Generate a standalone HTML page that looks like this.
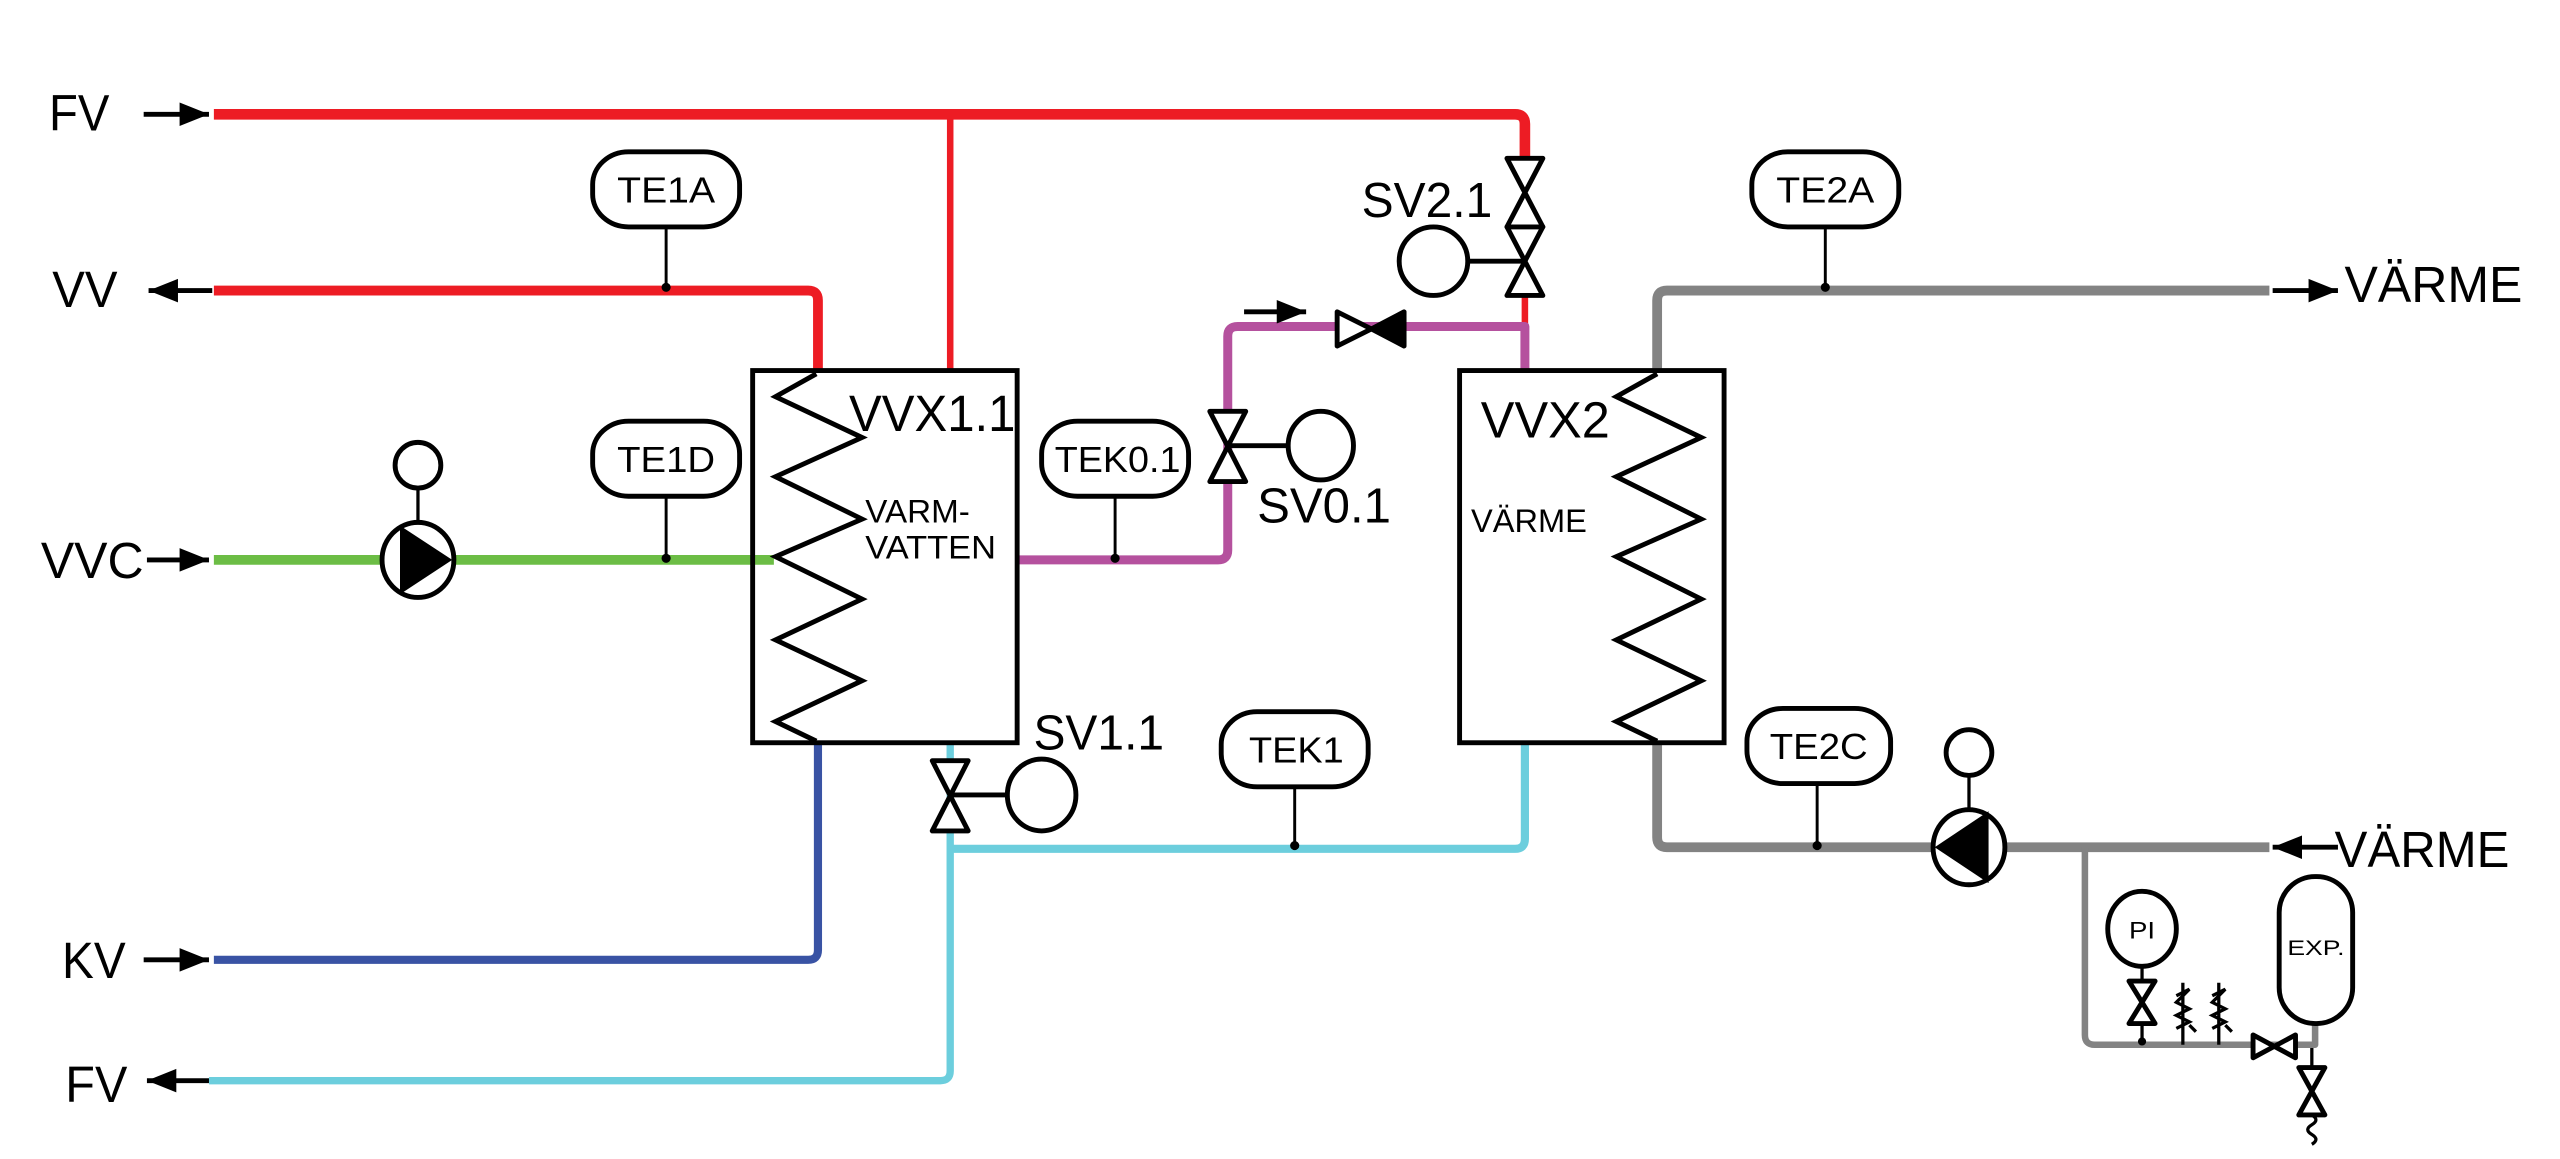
<!DOCTYPE html>
<html><head><meta charset="utf-8"><style>
html,body{margin:0;padding:0;background:#fff;}
svg{display:block;}
text{font-family:"Liberation Sans",sans-serif;fill:#000;}
</style></head><body>
<svg width="2560" height="1159" viewBox="0 0 1568 710" preserveAspectRatio="none" xmlns="http://www.w3.org/2000/svg">
<defs>
<marker id="ar" viewBox="0 0 10 10" refX="10" refY="5" markerWidth="6" markerHeight="6" orient="auto"><path d="M0,1 L10,5 L0,9 Z" fill="#000"/></marker>
</defs>
<g fill="none" stroke-linejoin="round">
<!-- red -->
<path d="M131,70 H928 Q934,70 934,76 V97" stroke="#ed1c24" stroke-width="6.5"/>
<path d="M934,181 V200" stroke="#ed1c24" stroke-width="4"/>
<path d="M582,70 V227" stroke="#ed1c24" stroke-width="4"/>
<path d="M131,178 H495 Q501,178 501,184 V227" stroke="#ed1c24" stroke-width="6" />
<!-- green -->
<path d="M131,343 H474" stroke="#6cbd45" stroke-width="6"/>
<!-- magenta -->
<path d="M623,343 H746 Q752,343 752,337 V206 Q752,200 758,200 H934 V227" stroke="#b5519e" stroke-width="5.5"/>
<!-- blue -->
<path d="M501,455 V582 Q501,588 495,588 H131" stroke="#3953a4" stroke-width="5"/>
<!-- cyan -->
<path d="M582,455 V656 Q582,662 576,662 H128" stroke="#6ccedd" stroke-width="4.5"/>
<path d="M582,520 H928 Q934,520 934,514 V455" stroke="#6ccedd" stroke-width="5"/>
<!-- grey -->
<path d="M1015,227 V184 Q1015,178 1021,178 H1390" stroke="#838383" stroke-width="6"/>
<path d="M1015,455 V513 Q1015,519 1021,519 H1390" stroke="#838383" stroke-width="6"/>
<path d="M1277,519 V634 Q1277,640 1283,640 H1418 V627" stroke="#838383" stroke-width="4"/>
</g>

<g stroke="#000" fill="none" stroke-width="3">
<!-- boxes -->
<rect x="461" y="227" width="162" height="228"/>
<rect x="894" y="227" width="162" height="228"/>
<polyline points="500,229 475,243 528,268 475,292 528,318 475,341 528,367 475,392 528,417 475,442 500,454"/>
<polyline points="1015,229 990,243 1042,268 990,292 1042,318 990,341 1042,367 990,392 1042,417 990,442 1015,454"/>
<!-- bubbles -->
<rect x="363" y="93" width="90" height="46" rx="22" ry="20"/>
<rect x="363" y="258" width="90" height="46" rx="22" ry="20"/>
<rect x="638" y="258" width="90" height="46" rx="22" ry="20"/>
<rect x="1073" y="93" width="90" height="46" rx="22" ry="20"/>
<rect x="748" y="436" width="90" height="46" rx="22" ry="20"/>
<rect x="1070" y="434" width="88" height="46" rx="22" ry="20"/>
</g>
<g stroke="#000" stroke-width="1.8">
<line x1="408" y1="139" x2="408" y2="178"/>
<line x1="408" y1="304" x2="408" y2="343"/>
<line x1="683" y1="304" x2="683" y2="343"/>
<line x1="1118" y1="139" x2="1118" y2="178"/>
<line x1="793" y1="482" x2="793" y2="520"/>
<line x1="1113" y1="480" x2="1113" y2="519"/>
</g>
<g fill="#000">
<circle cx="408" cy="176" r="2.8"/><circle cx="408" cy="342" r="2.8"/><circle cx="683" cy="342" r="2.8"/>
<circle cx="1118" cy="176" r="2.8"/><circle cx="793" cy="518" r="2.8"/><circle cx="1113" cy="518" r="2.8"/>
</g>

<!-- pumps -->
<g stroke="#000" stroke-width="3" fill="#fff">
<line x1="256" y1="299" x2="256" y2="321" stroke-width="2"/>
<ellipse cx="256" cy="285" rx="14" ry="14"/>
<ellipse cx="256" cy="343" rx="22" ry="23"/>
<line x1="1206" y1="475" x2="1206" y2="497" stroke-width="2"/>
<ellipse cx="1206" cy="461" rx="14" ry="14"/>
<ellipse cx="1206" cy="519" rx="22" ry="23"/>
</g>
<path d="M245,322 L277,343 L245,364 Z" fill="#000"/>
<path d="M1185,519 L1218,497 L1218,541 Z" fill="#000"/>

<!-- valves -->
<g stroke="#000" stroke-width="3" fill="#fff" stroke-linejoin="round">
<!-- SV0.1 -->
<path d="M741,252 H763 L741,295 H763 Z"/>
<line x1="752" y1="273" x2="788" y2="273"/>
<ellipse cx="809" cy="273" rx="20" ry="21"/>
<!-- SV2.1 -->
<path d="M923,97 H945 L923,139 H945 Z"/>
<path d="M923,139 H945 L923,181 H945 Z"/>
<line x1="900" y1="160" x2="934" y2="160"/>
<ellipse cx="878" cy="160" rx="21" ry="21"/>
<!-- SV1.1 -->
<path d="M571,466 H593 L571,509 H593 Z"/>
<line x1="582" y1="487" x2="617" y2="487"/>
<ellipse cx="638" cy="487" rx="21" ry="22"/>
<!-- check valve -->
<path d="M819,191 V212 L840,201.5 Z"/>
<path d="M860,191 V212 L840,201.5 Z" fill="#000"/>
<!-- PI -->
<ellipse cx="1312" cy="569" rx="21" ry="23"/>
<line x1="1312" y1="592" x2="1312" y2="638" stroke-width="2"/>
<path d="M1304,601 H1320 L1304,627 H1320 Z"/>
<!-- horiz valve -->
<path d="M1380,634 V648 L1406,634 V648 Z"/>
<!-- EXP -->
<rect x="1396" y="537" width="45" height="90" rx="22" ry="22"/>
<line x1="1416" y1="642" x2="1416" y2="654" stroke-width="2"/>
<path d="M1408,654 H1424 L1408,683 H1424 Z"/>
<path d="M1416,683 q5,3 0,6 q-5,3 0,6 q5,3 0,6" fill="none" stroke-width="2"/>
</g>
<circle cx="1312" cy="638" r="2.5"/>
<!-- spring relief valves -->
<g stroke="#000" stroke-width="2" fill="none">
<path d="M1337,602 V640 M1333,610 L1341,606 L1333,614 L1341,618 L1333,622 L1341,626 L1333,630 M1341,628 l4,4"/>
<path d="M1359,602 V640 M1355,610 L1363,606 L1355,614 L1363,618 L1355,622 L1363,626 L1355,630 M1363,628 l4,4"/>
</g>

<!-- arrows -->
<g stroke="#000" stroke-width="3" marker-end="url(#ar)">
<line x1="88" y1="70" x2="128" y2="70"/>
<line x1="130" y1="178" x2="91" y2="178"/>
<line x1="90" y1="343" x2="128" y2="343"/>
<line x1="88" y1="588" x2="128" y2="588"/>
<line x1="128" y1="662" x2="90" y2="662"/>
<line x1="762" y1="191" x2="800" y2="191"/>
<line x1="1392" y1="178" x2="1432" y2="178"/>
<line x1="1432" y1="519" x2="1392" y2="519"/>
</g>

<!-- text -->
<g font-size="31">
<text x="30" y="80" textLength="37" lengthAdjust="spacingAndGlyphs">FV</text>
<text x="32" y="188" textLength="40" lengthAdjust="spacingAndGlyphs">VV</text>
<text x="25" y="354" textLength="63" lengthAdjust="spacingAndGlyphs">VVC</text>
<text x="38" y="599" textLength="39" lengthAdjust="spacingAndGlyphs">KV</text>
<text x="40" y="675" textLength="38" lengthAdjust="spacingAndGlyphs">FV</text>
<text x="1436" y="185" textLength="109" lengthAdjust="spacingAndGlyphs">VÄRME</text>
<text x="1430" y="531" textLength="107" lengthAdjust="spacingAndGlyphs">VÄRME</text>
<text x="520" y="264" textLength="102" lengthAdjust="spacingAndGlyphs">VVX1.1</text>
<text x="907" y="268" textLength="79" lengthAdjust="spacingAndGlyphs">VVX2</text>
</g>
<g font-size="30">
<text x="834" y="133" textLength="80" lengthAdjust="spacingAndGlyphs">SV2.1</text>
<text x="770" y="320" textLength="82" lengthAdjust="spacingAndGlyphs">SV0.1</text>
<text x="633" y="459" textLength="80" lengthAdjust="spacingAndGlyphs">SV1.1</text>
</g>
<g font-size="22">
<text x="378" y="124" textLength="60" lengthAdjust="spacingAndGlyphs">TE1A</text>
<text x="378" y="289" textLength="60" lengthAdjust="spacingAndGlyphs">TE1D</text>
<text x="646" y="289" textLength="77" lengthAdjust="spacingAndGlyphs">TEK0.1</text>
<text x="1088" y="124" textLength="60" lengthAdjust="spacingAndGlyphs">TE2A</text>
<text x="765" y="467" textLength="58" lengthAdjust="spacingAndGlyphs">TEK1</text>
<text x="1084" y="465" textLength="60" lengthAdjust="spacingAndGlyphs">TE2C</text>
</g>
<g font-size="20">
<text x="530" y="320" textLength="64" lengthAdjust="spacingAndGlyphs">VARM-</text>
<text x="530" y="342" textLength="80" lengthAdjust="spacingAndGlyphs">VATTEN</text>
<text x="901" y="326" textLength="71" lengthAdjust="spacingAndGlyphs">VÄRME</text>
</g>
<text x="1304" y="575" font-size="15" textLength="16" lengthAdjust="spacingAndGlyphs">PI</text>
<text x="1401" y="585" font-size="13" textLength="35" lengthAdjust="spacingAndGlyphs">EXP.</text>
</svg>
</body></html>
